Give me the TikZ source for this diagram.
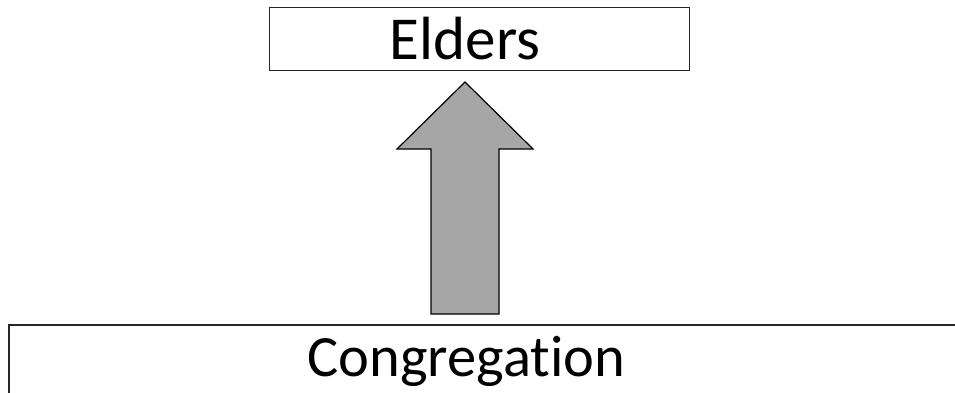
\documentclass[tikz,border=0pt]{standalone}
\usepackage{fontspec}
\setmainfont[Ligatures=CommonOff]{Carlito}
\begin{document}
\begin{tikzpicture}[x=1pt,y=-1pt,
  boxline/.style={draw=black!85, line width=1.3pt},
  lbl/.style={font=\fontsize{60}{60}\selectfont, inner sep=0pt, anchor=base},
  bigarrow/.style={draw=black, line width=1.2pt, fill=black!35, line join=miter}]
\useasboundingbox (0,0) rectangle (955,393);
\node[boxline, minimum width=420pt, minimum height=63pt, inner sep=0pt, anchor=north west] (eldersbox) at (269,7) {};
\node[lbl, font=\fontsize{61}{61}\selectfont] (elders) at (465,60) {Elders};
\draw[boxline] (1000,325) -- (9,325) -- (9,420);
\coordinate (congtop) at (465,325);
\node[lbl, font=\fontsize{58.5}{58.5}\selectfont] (cong) at (466.5,376) {Congregation};
\coordinate (tip) at (465,82);
\draw[bigarrow] (tip) -- (533,149) -- (499,149) -- (499,314) -- (431,314) -- (431,149) -- (397,149) -- cycle;
\end{tikzpicture}
\end{document}
